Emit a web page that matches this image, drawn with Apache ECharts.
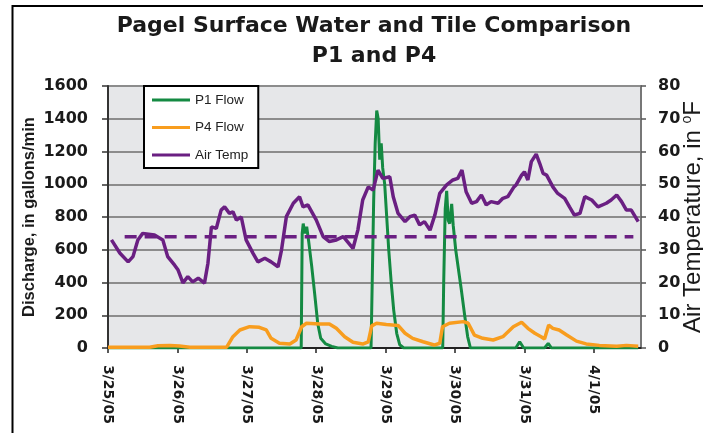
<!DOCTYPE html>
<html><head><meta charset="utf-8">
<script src="https://cdn.jsdelivr.net/npm/echarts@6/dist/echarts.min.js"></script>
<style>html,body{margin:0;padding:0;background:#fff}#c{width:703px;height:433px}</style>
</head><body><div id="c"></div>
<script>
const tickLabels = ['3/25/05','3/26/05','3/27/05','3/28/05','3/29/05','3/30/05','3/31/05','4/1/05'];
const tempDays = [0.05,0.17,0.29,0.36,0.43,0.50,0.67,0.79,0.86,0.96,1.01,1.08,1.15,1.22,1.30,1.39,1.44,1.49,1.56,1.63,1.68,1.75,1.80,1.85,1.92,1.99,2.09,2.16,2.26,2.35,2.45,2.50,2.57,2.67,2.76,2.81,2.88,3.00,3.10,3.19,3.29,3.39,3.53,3.60,3.67,3.75,3.82,3.89,3.96,4.06,4.11,4.18,4.28,4.35,4.42,4.49,4.56,4.64,4.71,4.78,4.88,4.97,5.04,5.10,5.16,5.24,5.31,5.38,5.45,5.52,5.62,5.69,5.76,5.85,5.88,5.96,6.00,6.05,6.10,6.17,6.22,6.27,6.32,6.41,6.48,6.58,6.65,6.72,6.80,6.87,6.97,7.06,7.18,7.25,7.33,7.40,7.47,7.54,7.64];
const tempF = [33.0,29.0,26.3,27.9,33.0,35.0,34.5,33.0,27.9,25.3,23.8,19.9,21.8,20.2,21.3,19.8,25.9,37.0,36.5,42.1,43.1,41.1,41.6,39.1,40.0,33.0,28.9,26.3,27.4,26.3,24.8,29.9,40.1,44.2,46.2,43.1,43.7,39.1,34.0,32.5,33.0,34.0,30.4,36.0,45.2,49.2,48.2,54.3,51.8,52.3,46.2,41.1,38.6,40.1,40.6,37.6,38.6,36.0,40.6,47.2,49.8,51.3,51.8,54.3,47.7,44.2,44.7,46.7,43.7,44.7,44.2,45.7,46.2,49.2,49.8,52.8,53.8,51.3,56.9,59.2,56.4,53.3,52.8,49.2,47.2,45.7,43.1,40.6,41.1,46.2,45.2,43.1,44.2,45.2,46.7,44.7,42.1,42.1,38.6];
const p1Days = [0,2.784,2.798,2.813,2.834,2.863,2.892,2.935,2.978,3.022,3.065,3.137,3.223,3.310,3.790,3.807,3.828,3.850,3.872,3.893,3.915,3.937,3.958,3.987,4.016,4.045,4.081,4.117,4.160,4.203,4.261,4.823,4.837,4.859,4.880,4.902,4.923,4.952,4.974,5.010,5.053,5.096,5.139,5.182,5.222,5.875,5.932,5.99,6.29,6.343,6.39,7.64];
const p1Flow = [0,0,700,760,700,740,650,500,330,150,60,25,10,0,0,400,900,1250,1450,1400,1150,1250,1100,1000,800,600,400,230,90,20,0,0,400,850,960,780,760,880,750,600,470,340,200,70,0,0,38,0,0,28,0,0];
const p4Days = [0,0.60,0.72,0.89,1.03,1.18,1.71,1.80,1.90,2.04,2.18,2.28,2.35,2.47,2.62,2.71,2.79,2.86,3.05,3.19,3.29,3.41,3.53,3.67,3.75,3.80,3.87,4.01,4.18,4.28,4.39,4.54,4.70,4.78,4.82,4.92,5.12,5.19,5.28,5.40,5.55,5.69,5.84,5.96,6.05,6.15,6.24,6.29,6.35,6.41,6.50,6.61,6.75,6.89,7.08,7.33,7.47,7.64];
const p4Flow = [5,5,14,15,12,5,5,69,110,130,126,110,59,29,24,49,130,151,147,147,120,69,35,24,38,135,151,143,138,90,59,38,18,29,130,151,161,151,79,59,49,69,130,157,120,90,69,55,140,120,110,79,42,25,16,10,16,10];
const refDays = [0.24, 7.57];
const refTemp = [34, 34];

const zip = (a, b) => a.map((v, i) => [v, b[i]]);
const chart = echarts.init(document.getElementById('c'), null, {renderer: 'canvas'});
const boldNum = {fontFamily: 'DejaVu Sans', fontWeight: 'bold', color: '#1a1a1a'};
chart.setOption({
  animation: false,
  backgroundColor: '#fff',
  title: {
    text: 'Pagel Surface Water and Tile Comparison\nP1 and P4',
    left: 369, top: 6, textAlign: 'center',
    textStyle: {fontFamily: 'DejaVu Sans', fontWeight: 'bold', fontSize: 22, lineHeight: 30, color: '#1a1a1a'}
  },
  graphic: [{type: 'rect', shape: {x: 12.5, y: 6, width: 800, height: 800}, style: {fill: 'none', stroke: '#000', lineWidth: 2}, silent: true, z: 100}],
  legend: {
    data: ['P1 Flow', 'P4 Flow', 'Air Temp'],
    orient: 'vertical', left: 144, top: 86,
    icon: 'rect', itemWidth: 38, itemHeight: 3, itemGap: 13.5,
    padding: [7, 10, 6, 8],
    backgroundColor: '#fff', borderColor: '#000', borderWidth: 2,
    textStyle: {fontFamily: 'Liberation Sans', fontSize: 13.5, lineHeight: 14, color: '#222'}
  },
  grid: {left: 108, right: 62, top: 86, bottom: 85, show: true, backgroundColor: '#e6e7e9', borderWidth: 0,
    containLabel: false, outerBoundsMode: 'none'},
  xAxis: {
    type: 'value', min: 0, max: 7.68, interval: 1,
    axisLine: {show: true, lineStyle: {color: '#222', width: 2}},
    axisTick: {show: true, length: 5, lineStyle: {color: '#222', width: 1.5}},
    splitLine: {show: false},
    axisLabel: {
      rotate: -90, margin: 17, fontSize: 14, ...boldNum,
      showMaxLabel: false,
      formatter: v => (Math.abs(v - Math.round(v)) < 1e-6 && tickLabels[Math.round(v)]) ? tickLabels[Math.round(v)] : ''
    }
  },
  yAxis: [{
    type: 'value', min: 0, max: 1600, interval: 200, position: 'left',
    name: 'Discharge, in gallons/min', nameLocation: 'middle', nameRotate: 90, nameGap: 70, nameMoveOverlap: false,
    nameTextStyle: {fontFamily: 'Liberation Sans', fontWeight: 'bold', fontSize: 16.5, color: '#1a1a1a'},
    axisLine: {show: true, lineStyle: {color: '#333', width: 2}},
    axisTick: {show: true, length: 6, lineStyle: {color: '#333', width: 1.5}},
    axisLabel: {margin: 20, fontSize: 16, ...boldNum, formatter: v => String(v)},
    splitLine: {show: true, lineStyle: {color: '#8c8c8c', width: 2}}
  }, {
    type: 'value', min: 0, max: 80, interval: 10, position: 'right',
    name: 'Air Temperature, in {sup|o}F', nameLocation: 'middle', nameRotate: 90, nameGap: 39, nameMoveOverlap: false,
    nameTextStyle: {fontFamily: 'Liberation Sans', fontSize: 24, lineHeight: 26, color: '#1a1a1a',
      rich: {sup: {fontFamily: 'Liberation Sans', fontSize: 14, lineHeight: 26, verticalAlign: 'top', color: '#1a1a1a'}}},
    axisLine: {show: true, lineStyle: {color: '#777', width: 2}},
    axisTick: {show: true, length: 5, lineStyle: {color: '#555', width: 1.5}},
    axisLabel: {margin: 17, fontSize: 16, ...boldNum, formatter: v => String(v)},
    splitLine: {show: false}
  }],
  series: [
    {name: 'P1 Flow', type: 'line', yAxisIndex: 0, data: zip(p1Days, p1Flow), showSymbol: false, symbol: 'none',
      lineStyle: {color: '#148a42', width: 3}, itemStyle: {color: '#148a42'}, z: 2},
    {name: 'P4 Flow', type: 'line', yAxisIndex: 0, data: zip(p4Days, p4Flow), showSymbol: false, symbol: 'none',
      lineStyle: {color: '#f89d1e', width: 3.5}, itemStyle: {color: '#f89d1e'}, z: 3},
    {name: 'Air Temp', type: 'line', yAxisIndex: 1, data: zip(tempDays, tempF), showSymbol: false, symbol: 'none',
      lineStyle: {color: '#6a1f82', width: 3.5}, itemStyle: {color: '#6a1f82'}, z: 4},
    {name: 'ref', type: 'line', yAxisIndex: 1, data: zip(refDays, refTemp), showSymbol: false, symbol: 'none',
      lineStyle: {color: '#6a1f82', width: 3.5, type: [12, 8]}, z: 5}
  ]
});
</script></body></html>
